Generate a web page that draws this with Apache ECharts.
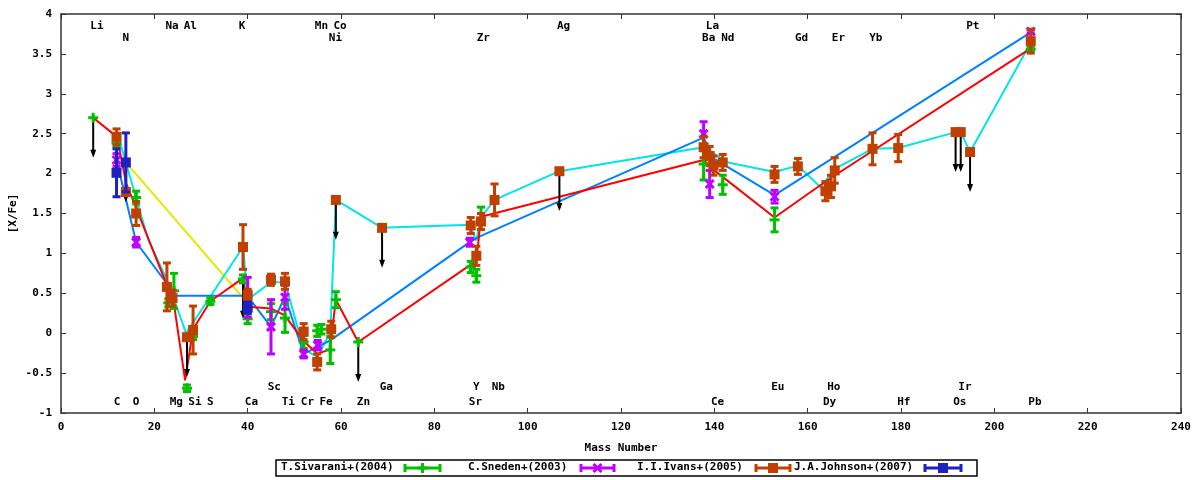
<!DOCTYPE html>
<html lang="en">
<head>
<meta charset="UTF-8">
<title>[X/Fe] vs Mass Number</title>
<script src="https://cdn.jsdelivr.net/npm/echarts@6/dist/echarts.min.js"></script>
<style>
    html, body { margin: 0; padding: 0; background: #fff; }
    #main { width: 1200px; height: 480px; }
</style>
</head>
<body>
<div id="main"></div>
<script>
// measurements: [mass number, [X/Fe], error]
var sivarani = [
    [6.9, 2.70, 0], [11.9, 2.38, 0.05], [16.1, 1.70, 0.08], [23.0, 0.38, 0.05],
    [24.2, 0.53, 0.22], [27.0, -0.69, 0.04], [28.3, -0.04, 0.04], [32.0, 0.40, 0.04],
    [39.0, 0.68, 0.05], [40.0, 0.18, 0.06], [45.0, 0.27, 0.10], [48.0, 0.19, 0.18],
    [52.0, -0.11, 0.08], [54.9, 0.03, 0.07], [55.8, 0.05, 0.06], [57.7, -0.21, 0.17],
    [58.9, 0.42, 0.10], [63.7, -0.11, 0], [87.8, 0.83, 0.07], [89.0, 0.72, 0.08],
    [90.0, 1.44, 0.14], [137.7, 2.12, 0.20], [141.8, 1.86, 0.12], [152.9, 1.42, 0.15],
    [207.8, 3.56, 0.03]
];
var sneden = [
    [11.9, 2.17, 0.08], [16.1, 1.14, 0.06], [23.5, 0.47, 0.06], [40.0, 0.45, 0.25],
    [45.0, 0.08, 0.34], [48.0, 0.45, 0.15], [52.0, -0.26, 0.05], [55.0, -0.15, 0.06],
    [87.6, 1.14, 0.05], [137.7, 2.50, 0.15], [139.0, 1.87, 0.17], [152.9, 1.71, 0.08],
    [207.8, 3.78, 0.02]
];
var ivans = [
    [11.9, 2.46, 0.10], [13.9, 1.77, 0], [16.1, 1.50, 0.15], [22.7, 0.58, 0.30],
    [23.9, 0.44, 0.10], [27.0, -0.05, 0], [28.3, 0.04, 0.30], [39.0, 1.08, 0.28],
    [40.0, 0.48, 0.07], [45.0, 0.67, 0.07], [48.0, 0.65, 0.10], [52.0, 0.02, 0.10],
    [54.9, -0.36, 0.10], [57.9, 0.05, 0.10], [58.9, 1.67, 0], [68.8, 1.32, 0],
    [87.8, 1.35, 0.10], [89.0, 0.97, 0.12], [90.0, 1.40, 0.10], [92.9, 1.67, 0.20],
    [106.8, 2.03, 0], [137.7, 2.33, 0.13], [139.0, 2.22, 0.12], [139.8, 2.10, 0.12],
    [141.8, 2.14, 0.10], [152.9, 1.99, 0.10], [157.9, 2.09, 0.10], [163.8, 1.78, 0.12],
    [165.0, 1.84, 0.14], [165.8, 2.04, 0.16], [173.9, 2.31, 0.20], [179.4, 2.32, 0.17],
    [191.7, 2.52, 0], [192.8, 2.52, 0], [194.8, 2.27, 0], [207.8, 3.66, 0.15]
];
var johnson = [
    [11.9, 2.01, 0.30], [13.9, 2.14, 0.37], [40.0, 0.32, 0.07]
];

// upper limits: [mass number, [X/Fe]]
var upperLimits = [
    [6.9, 2.70], [13.9, 2.14], [27.0, -0.05], [39.0, 0.68], [58.9, 1.67], [63.7, -0.11],
    [68.8, 1.32], [106.8, 2.03], [191.7, 2.52], [192.8, 2.52], [194.8, 2.27]
];

// connecting lines
var redLine = [
    [6.9, 2.70], [12.0, 2.46], [14.0, 1.87], [16.1, 1.57], [22.7, 0.60], [24.0, 0.45],
    [26.6, -0.59], [28.3, 0.05], [32.0, 0.40], [39.0, 0.69], [40.0, 0.33], [45.0, 0.31],
    [48.0, 0.22], [52.0, -0.10], [55.0, -0.26], [57.6, -0.20], [58.9, 0.42], [63.7, -0.11],
    [87.8, 0.86], [89.0, 0.90], [90.0, 1.46], [137.7, 2.17], [139.8, 2.05], [152.9, 1.45],
    [164.3, 1.92], [207.8, 3.57]
];
var blueLine = [
    [11.9, 2.17], [16.1, 1.14], [22.7, 0.62], [24.0, 0.47], [39.9, 0.47], [45.0, 0.08],
    [48.0, 0.46], [52.0, -0.26], [55.0, -0.17], [57.7, -0.09], [87.8, 1.15], [90.0, 1.22],
    [137.7, 2.45], [139.8, 2.19], [152.9, 1.73], [207.8, 3.77]
];
var cyanLine = [
    [12.7, 2.38], [18.7, 1.17], [22.7, 0.67], [26.8, 0.00], [39.0, 1.08], [40.0, 0.42],
    [45.0, 0.64], [48.0, 0.64], [52.0, -0.20], [55.0, -0.30], [57.7, 0.02], [58.9, 1.67],
    [68.8, 1.32], [87.6, 1.36], [89.0, 1.16], [90.0, 1.45], [92.9, 1.67], [106.8, 2.03],
    [137.7, 2.33], [142.9, 2.14], [152.9, 2.02], [157.9, 2.10], [162.8, 1.83], [165.8, 2.06],
    [173.9, 2.31], [179.4, 2.32], [191.7, 2.52], [192.8, 2.52], [194.8, 2.27], [207.8, 3.64]
];
var yellowLine = [[13.9, 2.14], [39.5, 0.41]];

// element names, four rows
var labelsTop1 = [['Li', 7.7], ['Na', 23.8], ['Al', 27.7], ['K', 38.8], ['Mn', 55.8], ['Co', 59.8],
    ['Ag', 107.7], ['La', 139.6], ['Pt', 195.4]];
var labelsTop2 = [['N', 13.9], ['Ni', 58.8], ['Zr', 90.5], ['Ba', 138.8], ['Nd', 142.9],
    ['Gd', 158.7], ['Er', 166.6], ['Yb', 174.6]];
var labelsBottom1 = [['Sc', 45.7], ['Ga', 69.7], ['Y', 89.0], ['Nb', 93.7], ['Eu', 153.6],
    ['Ho', 165.6], ['Ir', 193.7]];
var labelsBottom2 = [['C', 12.0], ['O', 16.1], ['Mg', 24.7], ['Si', 28.7], ['S', 32.0], ['Ca', 40.8],
    ['Ti', 48.7], ['Cr', 52.8], ['Fe', 56.8], ['Zn', 64.8], ['Sr', 88.8], ['Ce', 140.7],
    ['Dy', 164.7], ['Hf', 180.6], ['Os', 192.6], ['Pb', 208.7]];

var FONT = 'bold 11px "DejaVu Sans Mono", monospace';

function markerShapes(kind, cx, cy, color) {
    if (kind === 'plus') {
        return [
            { type: 'line', shape: { x1: cx - 5, y1: cy, x2: cx + 5, y2: cy }, style: { stroke: color, lineWidth: 3 } },
            { type: 'line', shape: { x1: cx, y1: cy - 5, x2: cx, y2: cy + 5 }, style: { stroke: color, lineWidth: 3 } }
        ];
    }
    if (kind === 'cross') {
        return [
            { type: 'line', shape: { x1: cx - 4, y1: cy - 4, x2: cx + 4, y2: cy + 4 }, style: { stroke: color, lineWidth: 3 } },
            { type: 'line', shape: { x1: cx - 4, y1: cy + 4, x2: cx + 4, y2: cy - 4 }, style: { stroke: color, lineWidth: 3 } }
        ];
    }
    return [{ type: 'rect', shape: { x: cx - 5, y: cy - 5, width: 10, height: 10 }, style: { fill: color } }];
}

function errorSeries(name, data, color, kind, z) {
    return {
        type: 'custom',
        name: name,
        data: data,
        z: z,
        encode: { x: 0, y: 1 },
        renderItem: function (params, api) {
            var x = api.value(0), y = api.value(1), e = api.value(2);
            var c = api.coord([x, y]);
            var kids = [];
            if (e > 0) {
                var t = api.coord([x, y + e])[1];
                var b = api.coord([x, y - e])[1];
                kids.push({ type: 'line', shape: { x1: c[0], y1: t, x2: c[0], y2: b }, style: { stroke: color, lineWidth: 3 } });
                kids.push({ type: 'line', shape: { x1: c[0] - 4, y1: t, x2: c[0] + 4, y2: t }, style: { stroke: color, lineWidth: 3 } });
                kids.push({ type: 'line', shape: { x1: c[0] - 4, y1: b, x2: c[0] + 4, y2: b }, style: { stroke: color, lineWidth: 3 } });
            }
            kids = kids.concat(markerShapes(kind, c[0], c[1], color));
            return { type: 'group', children: kids };
        }
    };
}

function lineSeries(data, color) {
    return {
        type: 'line', data: data, showSymbol: false, z: 1,
        lineStyle: { color: color, width: 2 }
    };
}

function labelSeries(list, rowY) {
    return {
        type: 'custom', z: 6,
        data: list.map(function (l) { return [l[1], rowY]; }),
        encode: { x: 0, y: 1 },
        renderItem: function (params, api) {
            var c = api.coord([api.value(0), api.value(1)]);
            return {
                type: 'text',
                style: {
                    text: list[params.dataIndex][0], x: c[0], y: c[1],
                    textAlign: 'center', verticalAlign: 'middle', textVerticalAlign: 'middle',
                    font: FONT, fill: '#000'
                }
            };
        }
    };
}

var arrowSeries = {
    type: 'custom', z: 2,
    data: upperLimits,
    encode: { x: 0, y: 1 },
    renderItem: function (params, api) {
        var x = api.value(0), y = api.value(1);
        var a = api.coord([x, y]);
        var b = api.coord([x, y - 0.5]);
        return {
            type: 'group',
            children: [
                { type: 'line', shape: { x1: a[0], y1: a[1], x2: b[0], y2: b[1] - 3 }, style: { stroke: '#000', lineWidth: 2 } },
                { type: 'polygon', shape: { points: [[b[0] - 3, b[1] - 8], [b[0] + 3, b[1] - 8], [b[0], b[1]]] }, style: { fill: '#000' } }
            ]
        };
    }
};

function legendSample(x1, x2, color, kind) {
    var y = 468, m = (x1 + x2) / 2;
    var kids = [
        { type: 'line', shape: { x1: x1, y1: y, x2: x2, y2: y }, style: { stroke: color, lineWidth: 3 } },
        { type: 'line', shape: { x1: x1, y1: y - 4, x2: x1, y2: y + 4 }, style: { stroke: color, lineWidth: 3 } },
        { type: 'line', shape: { x1: x2, y1: y - 4, x2: x2, y2: y + 4 }, style: { stroke: color, lineWidth: 3 } }
    ];
    return { type: 'group', children: kids.concat(markerShapes(kind, m, y, color)) };
}

function legendText(x, s) {
    return { type: 'text', left: x, top: 462, style: { text: s, font: FONT, fill: '#000' } };
}

var axisLineStyle = { show: true, onZero: false, lineStyle: { color: '#333', width: 1.5 } };
var tickStyle = { show: true, inside: true, length: 5, lineStyle: { color: '#333', width: 1 } };
var labelStyle = { color: '#000', fontFamily: 'DejaVu Sans Mono', fontWeight: 'bold', fontSize: 11 };

var chart = echarts.init(document.getElementById('main'));
chart.setOption({
    animation: false,
    backgroundColor: '#fff',
    grid: { left: 61, right: 19, top: 14, bottom: 67, containLabel: false, outerBoundsMode: 'none' },
    xAxis: [{
        type: 'value', min: 0, max: 240, interval: 20, position: 'bottom',
        name: 'Mass Number', nameLocation: 'middle', nameGap: 30,
        nameTextStyle: labelStyle,
        axisLine: axisLineStyle, axisTick: tickStyle,
        axisLabel: Object.assign({ margin: 9 }, labelStyle),
        splitLine: { show: false }
    }, {
        type: 'value', min: 0, max: 240, interval: 20, position: 'top',
        axisLine: axisLineStyle, axisTick: tickStyle,
        axisLabel: { show: false }, splitLine: { show: false }
    }],
    yAxis: [{
        type: 'value', min: -1, max: 4, interval: 0.5, position: 'left',
        name: '[X/Fe]', nameLocation: 'middle', nameGap: 42, nameRotate: 90, nameMoveOverlap: false,
        nameTextStyle: labelStyle,
        axisLine: axisLineStyle, axisTick: tickStyle,
        axisLabel: Object.assign({ margin: 9 }, labelStyle),
        splitLine: { show: false }
    }, {
        type: 'value', min: -1, max: 4, interval: 0.5, position: 'right',
        axisLine: axisLineStyle, axisTick: tickStyle,
        axisLabel: { show: false }, splitLine: { show: false }
    }],
    series: [
        lineSeries(yellowLine, '#e8e800'),
        lineSeries(cyanLine, '#00e6e6'),
        lineSeries(blueLine, '#0080ff'),
        lineSeries(redLine, '#ff0000'),
        arrowSeries,
        errorSeries('T.Sivarani+(2004)', sivarani, '#00c000', 'plus', 3),
        errorSeries('C.Sneden+(2003)', sneden, '#c000ff', 'cross', 4),
        errorSeries('I.I.Ivans+(2005)', ivans, '#c04000', 'square', 5),
        errorSeries('J.A.Johnson+(2007)', johnson, '#2020c0', 'square', 5),
        labelSeries(labelsTop1, 3.85),
        labelSeries(labelsTop2, 3.70),
        labelSeries(labelsBottom1, -0.67),
        labelSeries(labelsBottom2, -0.87)
    ],
    graphic: [
        { type: 'rect', shape: { x: 276, y: 460, width: 701, height: 16 }, style: { fill: '#fff', stroke: '#000', lineWidth: 1.5 } },
        legendText(281, 'T.Sivarani+(2004)'),
        legendSample(405, 440, '#00c000', 'plus'),
        legendText(468, 'C.Sneden+(2003)'),
        legendSample(581, 614, '#c000ff', 'cross'),
        legendText(637, 'I.I.Ivans+(2005)'),
        legendSample(756, 790, '#c04000', 'square'),
        legendText(794, 'J.A.Johnson+(2007)'),
        legendSample(925, 961, '#2020c0', 'square')
    ]
});
</script>
</body>
</html>
